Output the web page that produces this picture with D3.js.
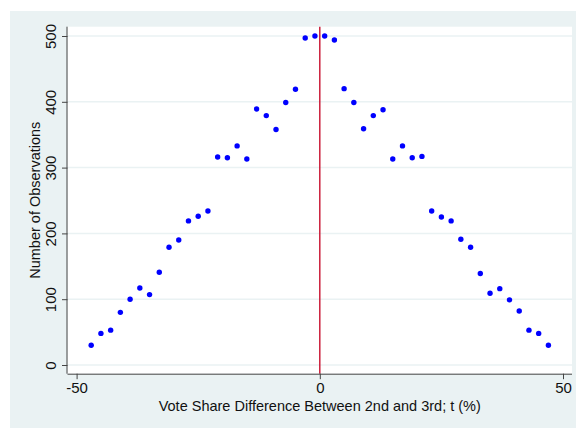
<!DOCTYPE html>
<html><head><meta charset="utf-8">
<script src="https://cdn.jsdelivr.net/npm/d3@7"></script>
<style>html,body{margin:0;padding:0;background:#fff;}svg{display:block;}</style>
</head><body>
<script>
const xValues = [-47,-45,-43,-41,-39,-37,-35,-33,-31,-29,-27,-25,-23,-21,-19,-17,-15,-13,-11,-9,-7,-5,-3,-1,
                  1,3,5,7,9,11,13,15,17,19,21,23,25,27,29,31,33,35,37,39,41,43,45,47];
const counts = [30,48,53,80,100,117,107,141,179,190,219,226,234,316,315,333,313,389,379,358,399,419,497,500,
                500,494,420,399,359,379,388,313,333,315,317,234,225,219,191,179,139,109,116,99,82,53,48,30];
const xTicks = [-50,0,50];
const yTicks = [0,100,200,300,400,500];
const xTitle = "Vote Share Difference Between 2nd and 3rd; t (%)";
const yTitle = "Number of Observations";
const cutoff = [0];

const W = 576, H = 428;
const bg = {x:10, y:11};
const plot = {left:67.5, right:572, top:26.7, bottom:373.7};

const svg = d3.select("body").append("svg").attr("width", W).attr("height", H);
svg.append("rect").attr("x", bg.x).attr("y", bg.y).attr("width", W - bg.x).attr("height", H - bg.y).attr("fill", "#eaf2f3");
svg.append("rect").attr("x", plot.left).attr("y", plot.top)
  .attr("width", plot.right - plot.left).attr("height", plot.bottom - plot.top).attr("fill", "#fff");

const x = d3.scaleLinear().domain([-50, 50]).range([76.6, 563]);
const y = d3.scaleLinear().domain([0, 500]).range([365, 36]);
const fmt = d => String(d);

// gridlines
svg.append("g").selectAll("line").data(yTicks).join("line")
  .attr("x1", plot.left).attr("x2", plot.right)
  .attr("y1", d => y(d)).attr("y2", d => y(d))
  .attr("stroke", "#eaf2f3").attr("stroke-width", 1.5);

// cutoff line
svg.append("g").selectAll("line").data(cutoff).join("line")
  .attr("x1", d => x(d)).attr("x2", d => x(d))
  .attr("y1", plot.top).attr("y2", plot.bottom)
  .attr("stroke", "#c8102e").attr("stroke-width", 1.4);

// points
svg.append("g").selectAll("circle").data(xValues).join("circle")
  .attr("cx", d => x(d)).attr("cy", (d, i) => y(counts[i]))
  .attr("r", 2.7).attr("fill", "#0000ff");

const font = "'Liberation Sans', Arial, sans-serif";

// x axis
const xAxis = svg.append("g").attr("transform", `translate(0,${plot.bottom})`)
  .call(d3.axisBottom(x).tickValues(xTicks).tickSize(5.5).tickPadding(3).tickFormat(fmt));
xAxis.select(".domain").attr("d", `M${plot.left},0.5H${plot.right}`).attr("stroke", "#444");
xAxis.selectAll(".tick line").attr("stroke", "#444");
xAxis.selectAll("text").attr("font-family", font).attr("font-size", 15).attr("fill", "#111");

// y axis
const yAxis = svg.append("g").attr("transform", `translate(${plot.left},0)`)
  .call(d3.axisLeft(y).tickValues(yTicks).tickSize(5.5).tickFormat(fmt));
yAxis.select(".domain").attr("d", `M-0.5,${plot.top}V${plot.bottom}`).attr("stroke", "#444");
yAxis.selectAll(".tick line").attr("stroke", "#444");
yAxis.selectAll("text")
  .attr("font-family", font).attr("font-size", 15).attr("fill", "#111")
  .attr("x", 0).attr("dy", 0)
  .attr("transform", "translate(-12,0) rotate(-90)")
  .attr("text-anchor", "middle");

// titles
svg.append("text").attr("x", (plot.left + plot.right) / 2).attr("y", 411)
  .attr("text-anchor", "middle").attr("font-family", font).attr("font-size", 14.5).attr("fill", "#111")
  .text(xTitle);
svg.append("text").attr("transform", `translate(40,${(plot.top + plot.bottom) / 2}) rotate(-90)`)
  .attr("text-anchor", "middle").attr("font-family", font).attr("font-size", 14.5).attr("fill", "#111")
  .text(yTitle);
</script>
</body></html>
